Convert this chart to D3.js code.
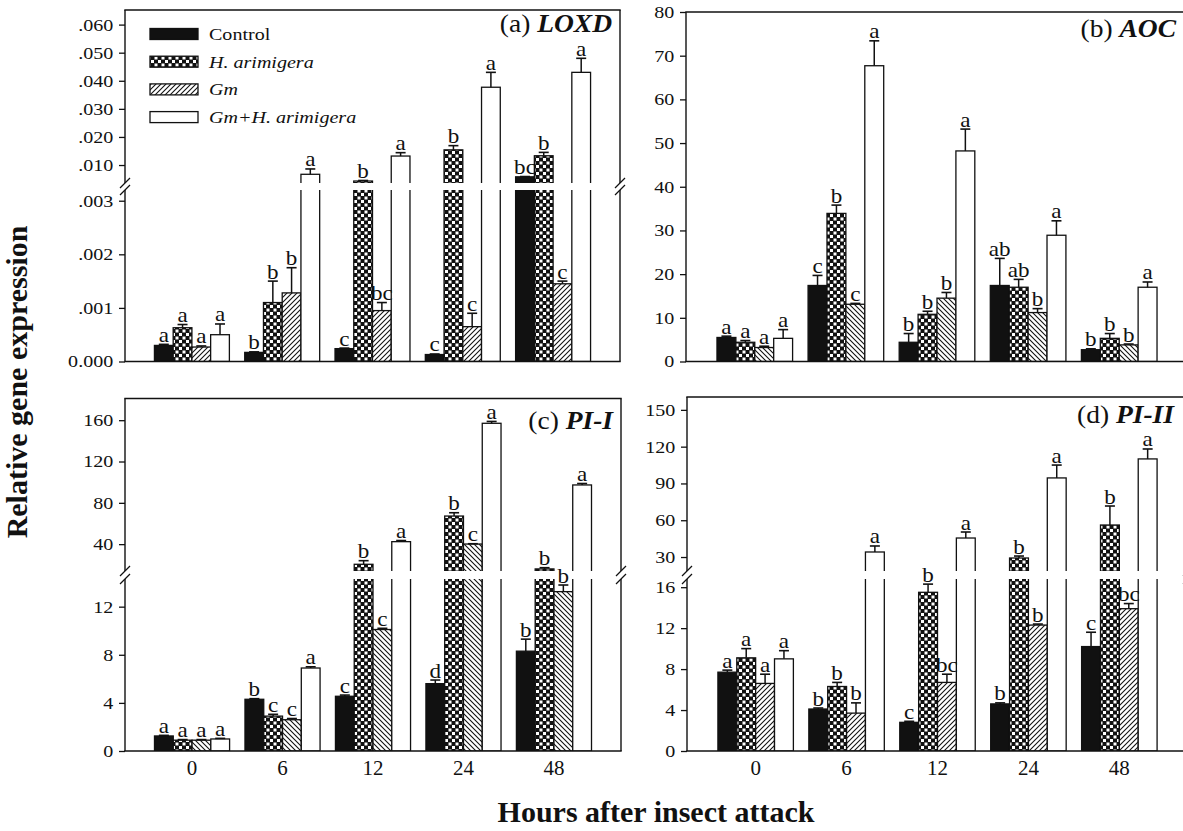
<!DOCTYPE html>
<html><head><meta charset="utf-8">
<script src="https://cdn.jsdelivr.net/npm/d3@7"></script>
<style>
body{margin:0;background:#fff}
svg{display:block}
text{font-family:"Liberation Serif","Times New Roman",serif;fill:#111}
</style>
</head><body>
<svg id="c" width="1183" height="831"></svg>
<script>
// ---------- data ----------
const hours = ["0","6","12","24","48"];
const series = ["Control","H. arimigera","Gm","Gm+H. arimigera"];
const seriesItalic = [false,true,true,true];

// (a) LOXD
const loxdControl = [0.00030,0.00017,0.00024,0.00013,0.0058];
const loxdControlErr = [0.00002,0.00001,0.00001,0.00001,0.0001];
const loxdH = [0.00063,0.00110,0.0043,0.0154,0.0133];
const loxdHErr = [0.00006,0.00040,0.0002,0.0015,0.0012];
const loxdGm = [0.00027,0.00128,0.00095,0.00065,0.00145];
const loxdGmErr = [0.00002,0.00047,0.00015,0.00025,0.00005];
const loxdGmH = [0.00050,0.0067,0.0132,0.0377,0.0430];
const loxdGmHErr = [0.00020,0.0019,0.0012,0.0053,0.0050];
const loxdLetters = [["a","b","c","c","bc"],["a","b","b","b","b"],["a","b","bc","c","c"],["a","a","a","a","a"]];
const loxdLowTicks = [0,0.001,0.002,0.003];
const loxdLowLabels = ["0.000",".001",".002",".003"];
const loxdUpTicks = [0.01,0.02,0.03,0.04,0.05,0.06];
const loxdUpLabels = [".010",".020",".030",".040",".050",".060"];

// (b) AOC
const aocControl = [5.5,17.4,4.4,17.4,2.7];
const aocControlErr = [0.3,2.3,2.0,6.2,0.2];
const aocH = [4.4,33.9,10.8,17.0,5.3];
const aocHErr = [0.4,1.9,0.7,1.8,1.1];
const aocGm = [3.2,13.1,14.5,11.2,3.8];
const aocGmErr = [0.3,0.2,1.3,0.9,0.2];
const aocGmH = [5.3,67.7,48.2,28.9,17.0];
const aocGmHErr = [2.0,5.7,5.0,3.3,1.2];
const aocLetters = [["a","c","b","ab","b"],["a","b","b","ab","b"],["a","c","b","b","b"],["a","a","a","a","a"]];
const aocTicks = [0,10,20,30,40,50,60,70,80];
const aocLabels = ["0","10","20","30","40","50","60","70","80"];

// (c) PI-I
const pi1Control = [1.25,4.3,4.55,5.6,8.3];
const pi1ControlErr = [0.05,0.05,0.1,0.3,1.0];
const pi1H = [0.9,2.9,20.5,67.2,16.0];
const pi1HErr = [0.05,0.15,3.5,3.2,1.2];
const pi1Gm = [0.9,2.6,10.1,40.1,13.25];
const pi1GmErr = [0.05,0.1,0.1,0.3,0.55];
const pi1GmH = [1.0,6.9,42.4,157.0,97.3];
const pi1GmHErr = [0.05,0.1,1.1,1.8,1.4];
const pi1Letters = [["a","b","c","d","b"],["a","c","b","b","b"],["a","c","c","c","b"],["a","a","a","a","a"]];
const pi1LowTicks = [0,4,8,12];
const pi1LowLabels = ["0","4","8","12"];
const pi1UpTicks = [40,80,120,160];
const pi1UpLabels = ["40","80","120","160"];

// (d) PI-II
const pi2Control = [7.7,4.1,2.8,4.6,10.2];
const pi2ControlErr = [0.2,0.1,0.1,0.1,1.4];
const pi2H = [9.1,6.3,15.5,29.2,56.1];
const pi2HErr = [0.9,0.4,0.8,1.6,15.5];
const pi2Gm = [6.6,3.7,6.7,12.3,13.9];
const pi2GmErr = [0.9,1.0,0.8,0.1,0.5];
const pi2GmH = [9.0,34.1,45.5,94.5,110.0];
const pi2GmHErr = [0.8,4.9,4.9,10.5,8.1];
const pi2Letters = [["a","b","c","b","c"],["a","b","b","b","b"],["a","b","bc","b","bc"],["a","a","a","a","a"]];
const pi2LowTicks = [0,4,8,12,16];
const pi2LowLabels = ["0","4","8","12","16"];
const pi2UpTicks = [30,60,90,120,150];
const pi2UpLabels = ["30","60","90","120","150"];

// ---------- drawing ----------
const SX = 1.18;
const INK = "#111";
const svg = d3.select("#c");
const defs = svg.append("defs");

const chk = defs.append("pattern").attr("id","chk").attr("patternUnits","userSpaceOnUse")
  .attr("width",7).attr("height",7);
chk.append("rect").attr("width",7).attr("height",7).attr("fill",INK);
chk.append("rect").attr("x",0.5).attr("y",0.5).attr("width",3).attr("height",3).attr("fill","#fff");
chk.append("rect").attr("x",4).attr("y",4).attr("width",3).attr("height",3).attr("fill","#fff");

function hatch(id, fwd){
  const s = 5;
  const p = defs.append("pattern").attr("id",id).attr("patternUnits","userSpaceOnUse").attr("width",s).attr("height",s);
  p.append("rect").attr("width",s).attr("height",s).attr("fill","#fff");
  const d = fwd
    ? `M0,${s} L${s},0 M${-s/2},${s/2} L${s/2},${-s/2} M${s/2},${1.5*s} L${1.5*s},${s/2}`
    : `M0,0 L${s},${s} M${-s/2},${s/2} L${s/2},${1.5*s} M${s/2},${-s/2} L${1.5*s},${s/2}`;
  p.append("path").attr("d",d).attr("stroke",INK).attr("stroke-width",1.1).attr("fill","none");
}
hatch("hf", true);
hatch("hb", false);

function stext(g, x, y, size, anchor, sx){
  return g.append("text").attr("transform",`translate(${x},${y}) scale(${sx||SX},1)`)
    .attr("text-anchor",anchor).style("font-size",size+"px");
}

const panels = [
  {id:"a", xRange:[125,620], po:0.326, hatch:"hf",
   values:[loxdControl,loxdH,loxdGm,loxdGmH], errors:[loxdControlErr,loxdHErr,loxdGmErr,loxdGmHErr], letters:loxdLetters,
   sections:[{domain:[0,0.0032],range:[361.5,190],ticks:loxdLowTicks,labels:loxdLowLabels},
             {domain:[0.0036,0.0652],range:[183,10],ticks:loxdUpTicks,labels:loxdUpLabels}],
   title:["(a) ","LOXD"], titleX:612, titleY:32, xlabels:false, legend:true},
  {id:"b", xRange:[686,1188], po:0.34, hatch:"hb",
   values:[aocControl,aocH,aocGm,aocGmH], errors:[aocControlErr,aocHErr,aocGmErr,aocGmHErr], letters:aocLetters,
   sections:[{domain:[0,80],range:[361.5,12],ticks:aocTicks,labels:aocLabels}],
   title:["(b) ","AOC"], titleX:1176, titleY:37, xlabels:false},
  {id:"c", xRange:[125,621], po:0.326, hatch:"hb",
   values:[pi1Control,pi1H,pi1Gm,pi1GmH], errors:[pi1ControlErr,pi1HErr,pi1GmErr,pi1GmHErr], letters:pi1Letters,
   sections:[{domain:[0,14.3],range:[751,579],ticks:pi1LowTicks,labels:pi1LowLabels},
             {domain:[14,181],range:[571,398.5],ticks:pi1UpTicks,labels:pi1UpLabels}],
   title:["(c) ","PI-I"], titleX:613, titleY:429, xlabels:true},
  {id:"d", xRange:[687,1188], po:0.34, hatch:"hf",
   values:[pi2Control,pi2H,pi2Gm,pi2GmH], errors:[pi2ControlErr,pi2HErr,pi2GmErr,pi2GmHErr], letters:pi2Letters,
   sections:[{domain:[0,16.8],range:[751,579],ticks:pi2LowTicks,labels:pi2LowLabels},
             {domain:[18.6,160.5],range:[571,397],ticks:pi2UpTicks,labels:pi2UpLabels}],
   title:["(d) ","PI-II"], titleX:1174, titleY:423, xlabels:true}
];

function drawPanel(p){
  const g = svg.append("g");
  const fills = [INK, "url(#chk)", `url(#${p.hatch})`, "#fff"];
  const x = d3.scaleBand().domain(hours).range(p.xRange).paddingInner(0.17).paddingOuter(p.po);
  const xs = d3.scaleBand().domain(series).range([0, x.bandwidth()]);
  const secs = p.sections.map((s,i) => {
    const y = d3.scaleLinear().domain(s.domain).range(s.range);
    const cid = `clip${p.id}${i}`;
    defs.append("clipPath").attr("id",cid).append("rect")
      .attr("x",p.xRange[0]).attr("y",s.range[1]).attr("width",p.xRange[1]-p.xRange[0]).attr("height",s.range[0]-s.range[1]);
    return {...s, y, cid, i};
  });
  const rows = [];
  series.forEach((ser,k)=>hours.forEach((h,j)=>rows.push({h,ser,k,v:p.values[k][j],e:p.errors[k][j],l:p.letters[k][j]})));

  // bars per section
  secs.forEach(s=>{
    const data = rows.filter(d => s.i===0 || d.v > s.domain[0]);
    g.append("g").attr("clip-path",`url(#${s.cid})`)
      .selectAll("rect").data(data).join("rect")
      .attr("x", d=>x(d.h)+xs(d.ser))
      .attr("width", xs.bandwidth())
      .attr("y", d=> d.v > s.domain[1] ? s.range[1]-6 : s.y(d.v))
      .attr("height", d=> {
        const top = d.v > s.domain[1] ? s.range[1]-6 : s.y(d.v);
        const bot = s.i===0 ? s.range[0] : s.range[0]+6;
        return Math.max(0, bot-top);
      })
      .attr("fill", d=>fills[d.k]).attr("stroke",INK).attr("stroke-width",1.3);
  });

  // error bars & letters
  const secOf = v => secs.find(s => v <= s.domain[1]) || secs[secs.length-1];
  rows.forEach(d=>{
    const s = secOf(d.v);
    const cx = x(d.h)+xs(d.ser)+xs.bandwidth()/2;
    const y0 = s.y(d.v), y1 = s.y(d.v+d.e);
    if (y0 - y1 > 0.8){
      g.append("line").attr("x1",cx).attr("x2",cx).attr("y1",y0).attr("y2",y1).attr("stroke",INK).attr("stroke-width",1.5);
    }
    g.append("line").attr("x1",cx-5).attr("x2",cx+5).attr("y1",y1).attr("y2",y1).attr("stroke",INK).attr("stroke-width",1.6);
    stext(g, cx, y1-2.5, 21, "middle", 1.1).text(d.l);
  });

  // frame
  const L = p.xRange[0], R = p.xRange[1];
  const ln = (x1,y1,x2,y2)=>g.append("line").attr("x1",x1).attr("y1",y1).attr("x2",x2).attr("y2",y2)
    .attr("stroke",INK).attr("stroke-width",1.4);
  secs.forEach(s=>{ ln(L,s.range[0],L,s.range[1]); ln(R,s.range[0],R,s.range[1]); });
  ln(L-0.7,secs[0].range[0],R+0.7,secs[0].range[0]);
  ln(L-0.7,secs[secs.length-1].range[1],R+0.7,secs[secs.length-1].range[1]);
  if (secs.length>1){
    [L,R].forEach(xx=>{
      [secs[0].range[1], secs[1].range[0]].forEach(yy=>{
        g.append("line").attr("x1",xx-5).attr("y1",yy+5).attr("x2",xx+5).attr("y2",yy-5)
          .attr("stroke",INK).attr("stroke-width",1.2);
      });
    });
  }

  // y axes
  secs.forEach(s=>{
    const ax = d3.axisLeft(s.y).tickValues(s.ticks).tickFormat((d,i)=>s.labels[i]).tickSize(6).tickPadding(4);
    const ga = g.append("g").attr("transform",`translate(${L},0)`).call(ax);
    ga.select(".domain").remove();
    ga.attr("font-family",null).attr("font-size",null);
    ga.selectAll("line").attr("stroke",INK).attr("stroke-width",1.3);
    ga.selectAll("text").attr("transform",`scale(${SX},1)`).style("font-size","17px").attr("fill",INK);
  });

  // x tick labels
  if (p.xlabels){
    const ax = d3.axisBottom(x).tickSize(0).tickPadding(10);
    const gx = g.append("g").attr("transform",`translate(0,${secs[0].range[0]})`).call(ax);
    gx.select(".domain").remove();
    gx.attr("font-family",null).attr("font-size",null);
    gx.selectAll("text").attr("transform",`scale(1.05,1)`).style("font-size","20px").attr("fill",INK);
  }

  // title
  const t = stext(g, p.titleX, p.titleY, 25, "end", 1.1);
  t.append("tspan").text(p.title[0]);
  t.append("tspan").style("font-weight","bold").style("font-style","italic").text(p.title[1]);

  // legend
  if (p.legend){
    const legFills = [INK, "url(#chk)", "url(#hf)", "#fff"];
    series.forEach((ser,k)=>{
      const cy = 34 + k*27.7;
      g.append("rect").attr("x",150).attr("y",cy-5.5).attr("width",48).attr("height",11)
        .attr("fill",legFills[k]).attr("stroke",INK).attr("stroke-width",1.3);
      stext(g, 209, cy+6, 17, "start").style("font-style", seriesItalic[k] ? "italic":"normal").text(ser);
    });
  }
}
panels.forEach(drawPanel);

// axis titles
svg.append("text").attr("transform",`translate(27,382) rotate(-90)`)
  .attr("text-anchor","middle").style("font-size","30px").style("font-weight","bold")
  .text("Relative gene expression");
svg.append("text").attr("transform",`translate(656,822)`)
  .attr("text-anchor","middle").style("font-size","30px").style("font-weight","bold")
  .text("Hours after insect attack");
</script>
</body></html>
